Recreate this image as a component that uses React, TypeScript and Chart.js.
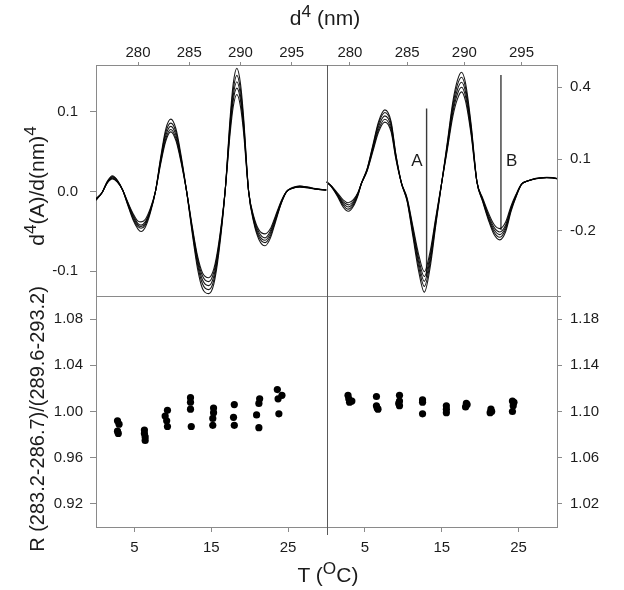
import React, { useEffect, useRef } from "react";
import { Chart, registerables } from "chart.js";
Chart.register(...registerables);

// ---------- top-left panel: 4th-derivative spectra (bundle of curves) ----------
const LEFT_NM = [275.9, 276.5, 277.0, 277.5, 278.0, 278.5, 279.0, 279.5, 280.0, 280.3, 280.7, 281.2, 281.7, 282.2, 282.7, 283.2, 283.7, 284.2, 284.75, 285.3, 285.8, 286.3, 286.9, 287.4, 287.9, 288.5, 289.0, 289.3, 289.65, 290.0, 290.3, 290.8, 291.3, 291.8, 292.4, 292.9, 293.4, 294.0, 294.5, 295.0, 295.8, 296.5, 297.3, 298.4];
const LEFT_CURVE_1 = [-0.011, -0.001, 0.013, 0.020, 0.014, 0.002, -0.017, -0.035, -0.047, -0.050, -0.045, -0.027, 0.000, 0.042, 0.078, 0.091, 0.079, 0.046, 0.000, -0.053, -0.096, -0.122, -0.128, -0.116, -0.076, 0.000, 0.094, 0.136, 0.155, 0.136, 0.095, 0.000, -0.039, -0.060, -0.068, -0.059, -0.039, -0.014, 0.000, 0.005, 0.007, 0.006, 0.004, 0.002];
const LEFT_CURVE_2 = [-0.010, -0.001, 0.012, 0.019, 0.014, 0.002, -0.016, -0.033, -0.044, -0.046, -0.042, -0.025, 0.000, 0.040, 0.074, 0.086, 0.075, 0.043, 0.000, -0.050, -0.091, -0.116, -0.123, -0.111, -0.072, 0.000, 0.089, 0.128, 0.146, 0.128, 0.090, 0.000, -0.037, -0.057, -0.064, -0.056, -0.037, -0.014, 0.000, 0.004, 0.007, 0.0055, 0.0035, 0.002];
const LEFT_CURVE_3 = [-0.010, -0.001, 0.012, 0.018, 0.013, 0.002, -0.015, -0.031, -0.042, -0.044, -0.040, -0.024, 0.000, 0.038, 0.070, 0.082, 0.071, 0.041, 0.000, -0.048, -0.087, -0.111, -0.118, -0.106, -0.069, 0.000, 0.084, 0.121, 0.138, 0.121, 0.085, 0.000, -0.035, -0.054, -0.061, -0.053, -0.035, -0.013, 0.000, 0.004, 0.0065, 0.0055, 0.0035, 0.002];
const LEFT_CURVE_4 = [-0.009, -0.001, 0.011, 0.017, 0.012, 0.002, -0.014, -0.029, -0.040, -0.042, -0.038, -0.023, 0.000, 0.036, 0.066, 0.078, 0.067, 0.039, 0.000, -0.046, -0.083, -0.106, -0.113, -0.101, -0.066, 0.000, 0.080, 0.115, 0.130, 0.115, 0.081, 0.000, -0.033, -0.051, -0.058, -0.050, -0.033, -0.012, 0.000, 0.004, 0.006, 0.005, 0.0035, 0.002];
const LEFT_CURVE_5 = [-0.009, -0.001, 0.011, 0.016, 0.012, 0.002, -0.013, -0.027, -0.037, -0.038, -0.035, -0.021, 0.000, 0.034, 0.063, 0.075, 0.064, 0.037, 0.000, -0.044, -0.080, -0.102, -0.108, -0.097, -0.063, 0.000, 0.074, 0.107, 0.122, 0.107, 0.075, 0.000, -0.031, -0.048, -0.053, -0.047, -0.031, -0.011, 0.000, 0.004, 0.0055, 0.005, 0.003, 0.002];

// ---------- top-right panel ----------
const RIGHT_NM = [277.95, 278.4, 278.9, 279.4, 279.86, 280.3, 280.7, 281.0, 281.5, 282.0, 282.5, 283.05, 283.6, 284.0, 284.5, 285.0, 285.5, 286.0, 286.5, 287.0, 287.5, 288.0, 288.5, 289.0, 289.4, 289.75, 290.1, 290.6, 291.1, 291.6, 292.1, 292.6, 293.1, 293.6, 294.1, 294.5, 295.0, 295.5, 296.0, 296.6, 297.2, 297.7, 298.1];
const RIGHT_CURVE_1 = [0.005, -0.017, -0.055, -0.100, -0.118, -0.097, -0.052, -0.002, 0.060, 0.158, 0.256, 0.305, 0.256, 0.125, 0.000, -0.077, -0.222, -0.366, -0.455, -0.355, -0.178, -0.006, 0.165, 0.341, 0.429, 0.462, 0.418, 0.242, 0.006, -0.077, -0.154, -0.215, -0.237, -0.204, -0.116, -0.061, -0.006, 0.008, 0.017, 0.022, 0.024, 0.023, 0.020];
const RIGHT_CURVE_2 = [0.005, -0.016, -0.051, -0.092, -0.109, -0.090, -0.048, -0.002, 0.058, 0.152, 0.247, 0.294, 0.247, 0.121, 0.000, -0.074, -0.210, -0.347, -0.431, -0.336, -0.168, -0.005, 0.158, 0.326, 0.410, 0.441, 0.399, 0.231, 0.005, -0.074, -0.147, -0.205, -0.226, -0.194, -0.110, -0.058, -0.005, 0.008, 0.016, 0.021, 0.023, 0.022, 0.019];
const RIGHT_CURVE_3 = [0.005, -0.015, -0.048, -0.085, -0.100, -0.083, -0.045, -0.002, 0.055, 0.145, 0.235, 0.280, 0.235, 0.115, 0.000, -0.070, -0.200, -0.330, -0.410, -0.320, -0.160, -0.005, 0.150, 0.310, 0.390, 0.420, 0.380, 0.220, 0.005, -0.070, -0.140, -0.195, -0.215, -0.185, -0.105, -0.055, -0.005, 0.008, 0.016, 0.021, 0.023, 0.022, 0.019];
const RIGHT_CURVE_4 = [0.005, -0.014, -0.045, -0.078, -0.091, -0.076, -0.042, -0.002, 0.052, 0.138, 0.223, 0.266, 0.223, 0.109, 0.000, -0.067, -0.190, -0.314, -0.390, -0.304, -0.152, -0.005, 0.143, 0.295, 0.371, 0.399, 0.361, 0.209, 0.005, -0.067, -0.133, -0.185, -0.204, -0.176, -0.100, -0.052, -0.005, 0.008, 0.015, 0.020, 0.022, 0.021, 0.018];
const RIGHT_CURVE_5 = [0.005, -0.013, -0.041, -0.070, -0.082, -0.069, -0.039, -0.002, 0.050, 0.131, 0.213, 0.254, 0.213, 0.104, 0.000, -0.063, -0.180, -0.297, -0.370, -0.288, -0.144, -0.004, 0.135, 0.279, 0.351, 0.380, 0.342, 0.198, 0.004, -0.062, -0.124, -0.173, -0.190, -0.164, -0.093, -0.049, -0.004, 0.007, 0.015, 0.020, 0.022, 0.021, 0.018];

// marker lines A and B (wavelength, top value, bottom value)
const LINE_A_NM = 286.7;
const LINE_A_Y = [0.311, -0.39];
const LINE_B_NM = 293.2;
const LINE_B_Y = [0.45, -0.196];
const MARK_LABEL_Y = 0.09;

// ---------- bottom panels: ratio R vs temperature ----------
const BL_T = [2.8, 3.0, 2.8, 2.9, 6.3, 6.3, 6.4, 6.4, 9.3, 9.0, 9.2, 9.3, 12.3, 12.3, 12.3, 12.4, 15.3, 15.3, 15.2, 15.2, 18.0, 17.9, 18.0, 21.3, 21.2, 20.9, 21.2, 23.6, 24.2, 23.7, 23.8];
const BL_R = [0.992, 0.989, 0.983, 0.981, 0.984, 0.981, 0.978, 0.975, 1.001, 0.996, 0.992, 0.987, 1.012, 1.008, 1.002, 0.987, 1.003, 0.999, 0.994, 0.988, 1.006, 0.995, 0.988, 1.011, 1.007, 0.997, 0.986, 1.019, 1.014, 1.011, 0.998];
const BR_T = [2.8, 2.9, 3.3, 3.0, 6.5, 6.5, 6.6, 6.7, 9.5, 9.5, 9.4, 9.5, 12.5, 12.5, 12.5, 15.6, 15.6, 15.6, 18.2, 18.3, 18.1, 21.4, 21.5, 21.3, 24.2, 24.4, 24.3, 24.2];
const BR_R = [1.114, 1.111, 1.109, 1.108, 1.113, 1.105, 1.103, 1.102, 1.114, 1.109, 1.107, 1.105, 1.110, 1.108, 1.098, 1.105, 1.102, 1.099, 1.107, 1.106, 1.104, 1.102, 1.100, 1.099, 1.109, 1.108, 1.105, 1.100];

// ---------- ticks ----------
const TOP_X_TICKS = [280, 285, 290, 295];
const BOTTOM_X_TICKS = [5, 15, 25];
const TL_Y_TICKS = [-0.1, 0.0, 0.1];
const TR_Y_TICKS = [-0.2, 0.1, 0.4];
const BL_Y_TICKS = [0.92, 0.96, 1.0, 1.04, 1.08];
const BR_Y_TICKS = [1.02, 1.06, 1.1, 1.14, 1.18];

const FONT_FAMILY = '"Liberation Sans", Arial, Helvetica, sans-serif';
const FRAME = "#8a8a8a";
const DIVIDER = "#5a5a5a";
const TEXT = "#1c1c1c";
const TICK_FONT = { family: FONT_FAMILY, size: 15 };

function fixedTicks(values: number[]) {
  return (scale: any) => {
    scale.ticks = values.map((v) => ({ value: v }));
  };
}

function axis(opts: any) {
  const { ticksArr, digits, size, tickLength, padding, ...rest } = opts;
  const horizontal = rest.position === "top" || rest.position === "bottom";
  return {
    type: "linear",
    ...rest,
    afterBuildTicks: fixedTicks(ticksArr),
    afterFit: (s: any) => {
      if (horizontal) s.height = size;
      else s.width = size;
    },
    ticks: {
      font: TICK_FONT,
      color: TEXT,
      padding,
      autoSkip: false,
      maxRotation: 0,
      callback: (v: any) => Number(v).toFixed(digits),
    },
    grid: {
      display: true,
      drawOnChartArea: false,
      drawTicks: true,
      tickLength,
      color: FRAME,
      tickColor: FRAME,
    },
    border: { display: true, color: FRAME, width: 1 },
  };
}

function curve(xs: number[], ys: number[], xAxisID: string, yAxisID: string) {
  return {
    type: "line",
    xAxisID,
    yAxisID,
    data: xs.map((x, i) => ({ x, y: ys[i] })),
    borderColor: "rgba(0,0,0,0.9)",
    borderWidth: 1.1,
    pointRadius: 0,
    fill: false,
    cubicInterpolationMode: "monotone",
  };
}

function marker(x: number, ys: number[]) {
  return {
    type: "line",
    xAxisID: "xTR",
    yAxisID: "yTR",
    data: ys.map((y) => ({ x, y })),
    borderColor: "#3a3a3a",
    borderWidth: 1.4,
    pointRadius: 0,
    fill: false,
  };
}

function dots(xs: number[], ys: number[], xAxisID: string, yAxisID: string) {
  return {
    type: "scatter",
    xAxisID,
    yAxisID,
    data: xs.map((x, i) => ({ x, y: ys[i] })),
    backgroundColor: "#000",
    borderColor: "#000",
    borderWidth: 0,
    pointRadius: 3.6,
    showLine: false,
  };
}

const framePlugin = {
  id: "panelFrame",
  afterDatasetsDraw(chart: any) {
    const { ctx, chartArea, scales } = chart;
    const midX = Math.round(scales.xTL.right) + 0.5;
    const midY = Math.round(scales.yTL.bottom) + 0.5;
    ctx.save();
    ctx.lineWidth = 1;
    ctx.strokeStyle = FRAME;
    ctx.beginPath();
    ctx.moveTo(chartArea.left, midY);
    ctx.lineTo(chartArea.right + 4, midY);
    ctx.stroke();
    ctx.strokeStyle = DIVIDER;
    ctx.beginPath();
    ctx.moveTo(midX, chartArea.top);
    ctx.lineTo(midX, chartArea.bottom + 8);
    ctx.stroke();
    // labels for marker lines
    ctx.fillStyle = TEXT;
    ctx.font = `17px ${FONT_FAMILY}`;
    ctx.textBaseline = "middle";
    const ly = scales.yTR.getPixelForValue(MARK_LABEL_Y);
    ctx.textAlign = "right";
    ctx.fillText("A", scales.xTR.getPixelForValue(LINE_A_NM) - 4, ly);
    ctx.textAlign = "left";
    ctx.fillText("B", scales.xTR.getPixelForValue(LINE_B_NM) + 5, ly);
    ctx.restore();
  },
};

export default function App() {
  const ref = useRef<HTMLCanvasElement>(null);
  useEffect(() => {
    document.body.style.margin = "0";
    const canvas = ref.current!;
    const chart = new Chart(canvas, {
      type: "line",
      data: {
        datasets: [
          curve(LEFT_NM, LEFT_CURVE_1, "xTL", "yTL"),
          curve(LEFT_NM, LEFT_CURVE_2, "xTL", "yTL"),
          curve(LEFT_NM, LEFT_CURVE_3, "xTL", "yTL"),
          curve(LEFT_NM, LEFT_CURVE_4, "xTL", "yTL"),
          curve(LEFT_NM, LEFT_CURVE_5, "xTL", "yTL"),
          curve(RIGHT_NM, RIGHT_CURVE_1, "xTR", "yTR"),
          curve(RIGHT_NM, RIGHT_CURVE_2, "xTR", "yTR"),
          curve(RIGHT_NM, RIGHT_CURVE_3, "xTR", "yTR"),
          curve(RIGHT_NM, RIGHT_CURVE_4, "xTR", "yTR"),
          curve(RIGHT_NM, RIGHT_CURVE_5, "xTR", "yTR"),
          marker(LINE_A_NM, LINE_A_Y),
          marker(LINE_B_NM, LINE_B_Y),
          dots(BL_T, BL_R, "xBL", "yBL"),
          dots(BR_T, BR_R, "xBR", "yBR"),
        ] as any,
      },
      options: {
        responsive: false,
        animation: false,
        devicePixelRatio: 1,
        layout: { padding: 0 },
        plugins: { legend: { display: false }, tooltip: { enabled: false } },
        scales: {
          xTL: axis({ axis: "x", position: "top", stack: "top", weight: 2, min: 275.9, max: 298.4, ticksArr: TOP_X_TICKS, digits: 0, size: 65, tickLength: 3, padding: 0 }),
          xTR: axis({ axis: "x", position: "top", stack: "top", weight: 1, min: 277.95, max: 298.1, ticksArr: TOP_X_TICKS, digits: 0, size: 65, tickLength: 3, padding: 0 }),
          xBL: axis({ axis: "x", position: "bottom", stack: "bottom", weight: 1, min: 0, max: 30, ticksArr: BOTTOM_X_TICKS, digits: 0, size: 63, tickLength: 5, padding: 7 }),
          xBR: axis({ axis: "x", position: "bottom", stack: "bottom", weight: 2, min: 0, max: 30, ticksArr: BOTTOM_X_TICKS, digits: 0, size: 63, tickLength: 5, padding: 7 }),
          yTL: axis({ axis: "y", position: "left", stack: "left", weight: 2, min: -0.131, max: 0.159, ticksArr: TL_Y_TICKS, digits: 1, size: 96, tickLength: 6, padding: 12 }),
          yBL: axis({ axis: "y", position: "left", stack: "left", weight: 1, min: 0.9, max: 1.1, ticksArr: BL_Y_TICKS, digits: 2, size: 96, tickLength: 6, padding: 7 }),
          yTR: axis({ axis: "y", position: "right", stack: "right", weight: 1, min: -0.471, max: 0.492, ticksArr: TR_Y_TICKS, digits: 1, size: 67, tickLength: 5, padding: 8 }),
          yBR: axis({ axis: "y", position: "right", stack: "right", weight: 2, min: 1.0, max: 1.2, ticksArr: BR_Y_TICKS, digits: 2, size: 67, tickLength: 5, padding: 8 }),
        } as any,
      },
      plugins: [framePlugin],
    });
    return () => chart.destroy();
  }, []);

  const sup = { fontSize: "0.82em", position: "relative" as const, top: "-0.45em" };
  const label = (x: number, y: number, size: number, rotate: boolean) => ({
    position: "absolute" as const,
    left: x,
    top: y,
    transform: `translate(-50%, -50%)${rotate ? " rotate(-90deg)" : ""}`,
    whiteSpace: "nowrap" as const,
    fontFamily: FONT_FAMILY,
    fontSize: size,
    lineHeight: 1,
    color: TEXT,
  });

  return (
    <div style={{ position: "relative", width: 624, height: 590, background: "#fff", overflow: "hidden" }}>
      <canvas ref={ref} width={624} height={590} style={{ position: "absolute", left: 0, top: 0 }} />
      <div style={label(325, 18, 21, false)}>
        d<span style={sup}>4</span> (nm)
      </div>
      <div style={label(328, 575, 21, false)}>
        T (<span style={sup}>O</span>C)
      </div>
      <div style={label(37, 186, 21, true)}>
        d<span style={sup}>4</span>(A)/d(nm)<span style={sup}>4</span>
      </div>
      <div style={label(37, 419, 20, true)}>R (283.2-286.7)/(289.6-293.2)</div>
    </div>
  );
}
